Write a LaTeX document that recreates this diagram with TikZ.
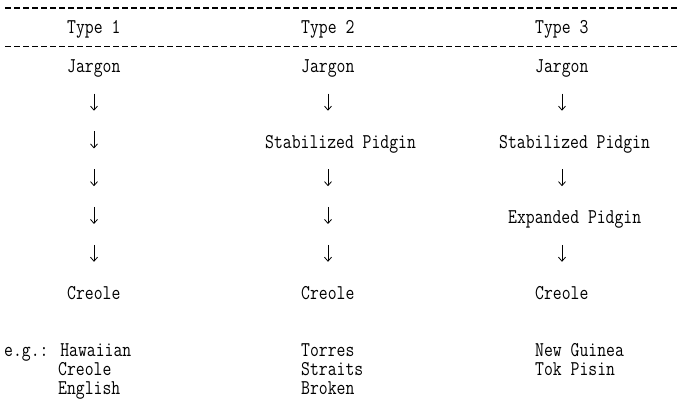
\documentclass[tikz,border=0pt]{standalone}
\usepackage{fontspec}
\newfontfamily\tablefont[FakeStretch=0.82]{Latin Modern Mono}
\usetikzlibrary{arrows.meta}

\begin{document}
\begin{tikzpicture}[x=1pt, y=-1pt,
  txt/.style={font=\tablefont\fontsize{21}{21}\selectfont, inner sep=0pt, anchor=base west},
  down/.style={line width=0.8pt, -{Straight Barb[length=4pt, width=7pt]}},
  rule/.style={line width=1.2pt, dash pattern=on 6pt off 3pt}]
  \def\cw{9}   % character cell width
  \def\x{4}    % left margin
  \def\colA{94}
  \def\colB{328}
  \def\colC{562}
  \def\rowa{110.7}
  \def\rowb{148.5}
  \def\rowc{186.2}
  \def\rowd{224}
  \def\rowe{261.8}

  \useasboundingbox (0,0) rectangle (689,406);
  \draw[rule] (5,8) -- (677,8);
  \draw[rule] (5,46.5) -- (677,46.5);

  \node[txt] (type1) at ({\x+7*\cw}, 34) {Type 1};
  \node[txt] (type2) at ({\x+33*\cw}, 34) {Type 2};
  \node[txt] (type3) at ({\x+59*\cw}, 34) {Type 3};

  \node[txt] (jargon1) at ({\x+7*\cw}, 73) {Jargon};
  \node[txt] (jargon2) at ({\x+33*\cw}, 73) {Jargon};
  \node[txt] (jargon3) at ({\x+59*\cw}, 73) {Jargon};

  % type 1
  \foreach \r in {\rowa,\rowb,\rowc,\rowd,\rowe}
    \draw[down] (\colA, \r-17) -- ++(0,17);

  % type 2
  \node[txt] (pidgin2) at ({\x+29*\cw}, \rowb) {Stabilized Pidgin};
  \foreach \r in {\rowa,\rowc,\rowd,\rowe}
    \draw[down] (\colB, \r-17) -- ++(0,17);

  % type 3
  \node[txt] (pidgin3) at ({\x+55*\cw}, \rowb) {Stabilized Pidgin};
  \node[txt] (expanded3) at ({\x+56*\cw}, \rowd) {Expanded Pidgin};
  \foreach \r in {\rowa,\rowc,\rowe}
    \draw[down] (\colC, \r-17) -- ++(0,17);

  \node[txt] (creole1) at ({\x+7*\cw}, 300) {Creole};
  \node[txt] (creole2) at ({\x+33*\cw}, 300) {Creole};
  \node[txt] (creole3) at ({\x+59*\cw}, 300) {Creole};

  % examples
  \node[txt] (ex1a) at (\x, 357) {e.g.: Hawaiian};
  \node[txt] (ex1b) at ({\x+6*\cw}, 376) {Creole};
  \node[txt] (ex1c) at ({\x+6*\cw}, 395) {English};
  \node[txt] (ex2a) at ({\x+33*\cw}, 357) {Torres};
  \node[txt] (ex2b) at ({\x+33*\cw}, 376) {Straits};
  \node[txt] (ex2c) at ({\x+33*\cw}, 395) {Broken};
  \node[txt] (ex3a) at ({\x+59*\cw}, 357) {New Guinea};
  \node[txt] (ex3b) at ({\x+59*\cw}, 376) {Tok Pisin};
\end{tikzpicture}
\end{document}
